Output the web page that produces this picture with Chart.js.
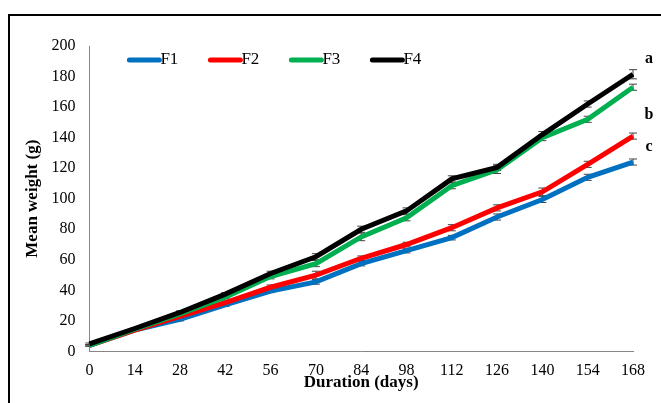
<!DOCTYPE html>
<html>
<head>
<meta charset="utf-8">
<script src="https://cdn.jsdelivr.net/npm/chart.js@4.4.0/dist/chart.umd.min.js"></script>
<style>
  body { margin: 0; background: #fff; }
  #wrap { position: relative; width: 661px; height: 403px; overflow: hidden; }
  #frame { position: absolute; left: 8px; top: 14px; width: 700px; height: 500px; border: 2px solid #000; }
  canvas { position: absolute; left: 0; top: 0; }
</style>
</head>
<body>
<div id="wrap">
  <div id="frame"></div>
  <canvas id="myChart" width="661" height="403"></canvas>
</div>
<script>
const days = ["0", "14", "28", "42", "56", "70", "84", "98", "112", "126", "140", "154", "168"];
const f1 = [4, 14, 21, 30.5, 39.5, 45.5, 57.5, 66, 74.5, 88, 99.5, 114, 124];
const f2 = [4, 14, 23, 32, 42, 50, 61, 70, 81, 94, 104.5, 122.5, 141];
const f3 = [4, 14.5, 24.5, 35.5, 49, 57.5, 75, 87.5, 108.5, 119, 140, 152, 173];
const f4 = [5, 15, 25.5, 37.5, 51, 62, 80, 92, 113, 120.5, 142, 162, 181.5];
const f1err = [0.5, 0.5, 1, 1, 1, 1.5, 1.5, 1.5, 1.5, 2, 2, 2, 2];
const f2err = [0.5, 0.5, 1, 1, 1.5, 2.5, 1.5, 1.5, 2, 2, 2.5, 2, 2];
const f3err = [0.5, 0.5, 1, 1, 1.5, 2, 2.5, 2, 2, 2.5, 2, 2, 2];
const f4err = [0.5, 0.5, 1, 1, 1.5, 2, 2, 2, 2, 2, 2, 2, 3];
const groupLetters = ["a", "b", "c"];
const letterValues = [191.5, 155, 134];

const serif = "'Liberation Serif', 'Times New Roman', serif";

// error bars drawn under the lines
const errorBars = {
  id: "errorBars",
  beforeDatasetsDraw(chart) {
    const { ctx, scales } = chart;
    ctx.save();
    ctx.strokeStyle = "#444";
    ctx.lineWidth = 1;
    chart.data.datasets.forEach((ds) => {
      ds.data.forEach((v, i) => {
        const x = scales.x.getPixelForValue(i);
        const yTop = scales.y.getPixelForValue(v + ds.err[i]);
        const yBot = scales.y.getPixelForValue(v - ds.err[i]);
        ctx.beginPath();
        ctx.moveTo(x, yTop);
        ctx.lineTo(x, yBot);
        ctx.moveTo(x - 4, yTop);
        ctx.lineTo(x + 4, yTop);
        ctx.moveTo(x - 4, yBot);
        ctx.lineTo(x + 4, yBot);
        ctx.stroke();
      });
    });
    ctx.restore();
  },
};

// legend inside the plot + letters on the right
const extras = {
  id: "extras",
  afterDraw(chart) {
    const { ctx, chartArea, scales } = chart;
    ctx.save();
    ctx.textBaseline = "middle";
    ctx.font = "17px " + serif;
    const ly = 60;
    chart.data.datasets.forEach((ds, i) => {
      const x0 = chartArea.left + 40 + i * 81;
      ctx.strokeStyle = ds.borderColor;
      ctx.lineWidth = 5;
      ctx.lineCap = "round";
      ctx.beginPath();
      ctx.moveTo(x0, ly);
      ctx.lineTo(x0 + 30, ly);
      ctx.stroke();
      ctx.fillStyle = "#000";
      ctx.textAlign = "left";
      ctx.fillText(ds.label, x0 + 31, ly);
    });
    ctx.font = "bold 16px " + serif;
    ctx.textAlign = "center";
    groupLetters.forEach((t, i) => {
      ctx.fillText(t, chartArea.right + 16, scales.y.getPixelForValue(letterValues[i]));
    });
    ctx.restore();
  },
};

const mk = (label, data, err, color, order) => ({
  label: label,
  data: data,
  err: err,
  borderColor: color,
  backgroundColor: color,
  borderWidth: 5,
  pointRadius: 0,
  tension: 0,
  order: order,
});

const ctx = document.getElementById("myChart").getContext("2d");
const myChart = new Chart(ctx, {
  type: "line",
  data: {
    labels: days,
    datasets: [
      mk("F1", f1, f1err, "#0070C0", 4),
      mk("F2", f2, f2err, "#FF0000", 3),
      mk("F3", f3, f3err, "#00B050", 2),
      mk("F4", f4, f4err, "#000000", 1),
    ],
  },
  options: {
    responsive: false,
    animation: false,
    layout: { padding: { left: 22, right: 28, top: 46, bottom: 10 } },
    plugins: { legend: { display: false }, tooltip: { enabled: false } },
    scales: {
      x: {
        offset: false,
        grid: { display: false, drawTicks: true, tickLength: 6, color: "#868686" },
        border: { color: "#868686", width: 1 },
        ticks: { color: "#000", font: { family: serif, size: 16 }, padding: 4, maxRotation: 0, autoSkip: false },
        title: {
          display: true,
          text: "Duration (days)",
          color: "#000",
          font: { family: serif, size: 17, weight: "bold" },
          padding: { top: -12, bottom: 0 },
        },
      },
      y: {
        min: 0,
        max: 200,
        grid: { display: false, drawTicks: true, tickLength: 6, color: "#868686" },
        border: { color: "#868686", width: 1 },
        ticks: { stepSize: 20, color: "#000", font: { family: serif, size: 16 }, padding: 8 },
        title: {
          display: true,
          text: "Mean weight (g)",
          color: "#000",
          font: { family: serif, size: 17, weight: "bold" },
          padding: { top: 0, bottom: 1 },
        },
      },
    },
  },
  plugins: [errorBars, extras],
});
</script>
</body>
</html>
